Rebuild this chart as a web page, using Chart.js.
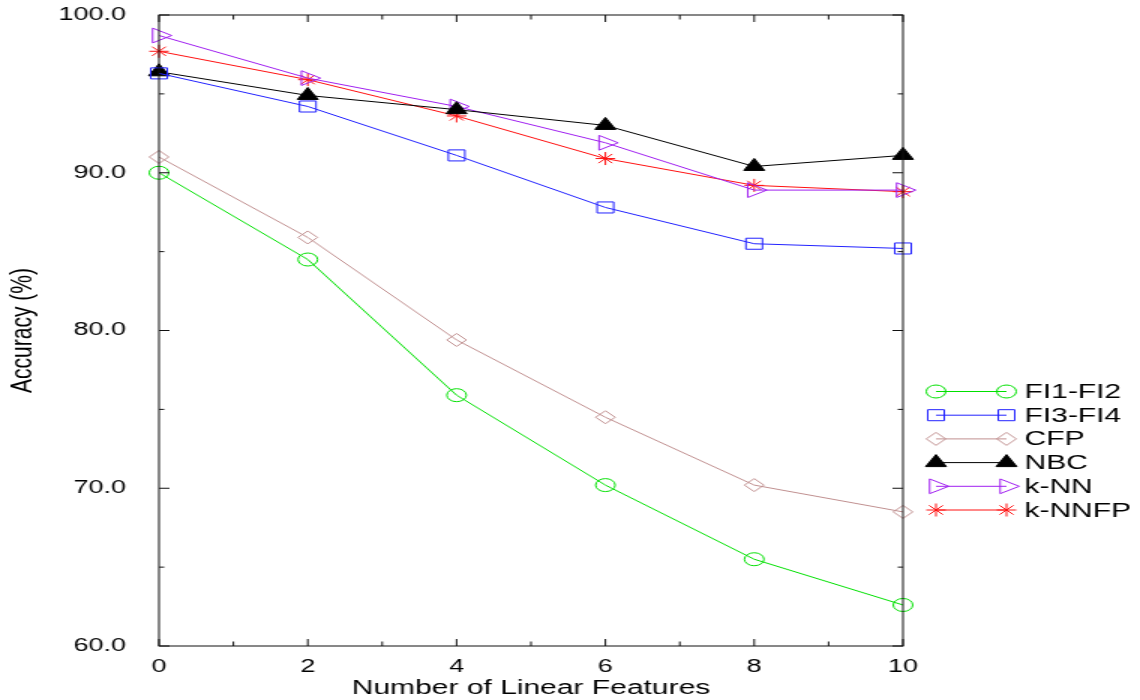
<!DOCTYPE html>
<html>
<head>
<meta charset="utf-8">
<title>Accuracy vs Number of Linear Features</title>
<script src="https://cdn.jsdelivr.net/npm/chart.js@4/dist/chart.umd.min.js"></script>
<style>
    html, body { margin: 0; padding: 0; background: #fff; }
    /* the original is a horizontally stretched plot, so the canvas is drawn narrow and widened */
    #chart { width: 1140px; height: 700px; }
</style>
</head>
<body>
<canvas id="chart" width="760" height="700" style="width:1140px;height:700px"></canvas>
<script>
var featureCounts = [0, 2, 4, 6, 8, 10];

var fi1fi2 = [90.0, 84.5, 75.9, 70.2, 65.5, 62.6];
var fi3fi4 = [96.3, 94.2, 91.1, 87.8, 85.5, 85.2];
var cfp    = [91.0, 85.9, 79.4, 74.5, 70.2, 68.5];
var nbc    = [96.4, 94.9, 94.0, 93.0, 90.4, 91.1];
var knn    = [98.7, 96.0, 94.2, 91.9, 88.9, 88.9];
var knnfp  = [97.7, 95.9, 93.6, 90.9, 89.2, 88.8];

var yTicks = [60, 70, 80, 90, 100];
var xTicks = [0, 2, 4, 6, 8, 10];

function points(values) {
    return values.map(function(v, i) {
        return { x: featureCounts[i], y: v };
    });
}

function series(label, values, color, style, radius, rotation, filled) {
    return {
        label: label,
        data: points(values),
        borderColor: color,
        borderWidth: 1,
        pointStyle: style,
        pointRadius: radius,
        pointHoverRadius: radius,
        pointRotation: rotation || 0,
        pointBorderColor: color,
        pointBorderWidth: 1,
        pointBackgroundColor: filled ? color : 'rgba(0,0,0,0)',
        tension: 0,
        clip: false
    };
}

// inward tick marks on all four sides plus the frame
var frameTicks = {
    id: 'frameTicks',
    afterDraw: function(chart) {
        var ctx = chart.ctx;
        var a = chart.chartArea;
        var xs = chart.scales.x;
        var ys = chart.scales.y;
        var v, px, len;

        ctx.save();
        ctx.strokeStyle = '#111';
        ctx.lineWidth = 1;
        ctx.strokeRect(a.left, a.top, a.right - a.left, a.bottom - a.top);

        ctx.beginPath();
        for (v = 0; v <= 10; v++) {
            px = xs.getPixelForValue(v);
            len = (v % 2 === 0) ? 7 : 4.5;
            ctx.moveTo(px, a.bottom);
            ctx.lineTo(px, a.bottom - len);
            ctx.moveTo(px, a.top);
            ctx.lineTo(px, a.top + len);
        }
        for (v = 60; v <= 100; v += 5) {
            px = ys.getPixelForValue(v);
            len = (v % 10 === 0) ? 7 : 3.5;
            ctx.moveTo(a.left, px);
            ctx.lineTo(a.left + len, px);
            ctx.moveTo(a.right, px);
            ctx.lineTo(a.right - len, px);
        }
        ctx.stroke();
        ctx.restore();
    }
};

// legend: a short line with a marker at each end, label to the right
var sideLegend = {
    id: 'sideLegend',
    afterDraw: function(chart) {
        var ctx = chart.ctx;
        var x1 = 624, x2 = 671, textX = 683;
        var y = 391.5, step = 23.7;

        ctx.save();
        ctx.font = '20px "Liberation Sans", Arial, sans-serif';
        ctx.textBaseline = 'middle';
        ctx.textAlign = 'left';

        chart.data.datasets.forEach(function(ds, i) {
            var yy = y + i * step;
            ctx.strokeStyle = ds.borderColor;
            ctx.lineWidth = 1;
            ctx.beginPath();
            ctx.moveTo(x1, yy);
            ctx.lineTo(x2, yy);
            ctx.stroke();

            var opts = {
                pointStyle: ds.pointStyle,
                radius: ds.pointRadius,
                rotation: ds.pointRotation,
                borderWidth: 1
            };
            ctx.fillStyle = ds.pointBackgroundColor;
            ctx.strokeStyle = ds.pointBorderColor;
            Chart.helpers.drawPoint(ctx, opts, x1, yy);
            Chart.helpers.drawPoint(ctx, opts, x2, yy);

            ctx.fillStyle = '#000';
            ctx.fillText(ds.label, textX, yy + 1);
        });
        ctx.restore();
    }
};

Chart.defaults.font.family = '"Liberation Sans", Arial, Helvetica, sans-serif';
Chart.defaults.color = '#000';

new Chart(document.getElementById('chart'), {
    type: 'line',
    data: {
        datasets: [
            series('FI1-FI2', fi1fi2, '#00e000', 'circle', 6.5),
            series('FI3-FI4', fi3fi4, '#2222ff', 'rect', 7.8),
            series('CFP', cfp, '#c09090', 'rectRot', 6.5),
            series('NBC', nbc, '#000000', 'triangle', 8, 0, true),
            series('k-NN', knn, '#a020f0', 'triangle', 8.5, 90),
            series('k-NNFP', knnfp, '#ff1010', 'star', 6.5)
        ]
    },
    options: {
        responsive: false,
        animation: false,
        devicePixelRatio: 1,
        events: [],
        layout: {
            padding: { left: 0, right: 158, top: 15, bottom: 0 }
        },
        plugins: {
            legend: { display: false },
            tooltip: { enabled: false }
        },
        scales: {
            x: {
                type: 'linear',
                min: 0,
                max: 10,
                grid: { display: false },
                border: { display: false },
                afterBuildTicks: function(scale) {
                    scale.ticks = xTicks.map(function(v) { return { value: v }; });
                },
                afterFit: function(scale) {
                    scale.height = 54;
                    scale.paddingLeft = 0;
                    scale.paddingRight = 0;
                },
                ticks: {
                    padding: 2,
                    maxRotation: 0,
                    font: { size: 18 }
                },
                title: {
                    display: true,
                    text: 'Number of Linear Features',
                    font: { size: 20 },
                    padding: { top: 0, bottom: 0 }
                }
            },
            y: {
                min: 60,
                max: 100,
                grid: { display: false },
                border: { display: false },
                afterBuildTicks: function(scale) {
                    scale.ticks = yTicks.map(function(v) { return { value: v }; });
                },
                afterFit: function(scale) {
                    scale.width = 106;
                    scale.paddingTop = 0;
                    scale.paddingBottom = 0;
                },
                ticks: {
                    padding: 14,
                    font: { size: 18 },
                    callback: function(value) {
                        return Number(value).toFixed(1);
                    }
                },
                title: {
                    display: true,
                    text: 'Accuracy (%)',
                    font: { size: 21 },
                    padding: { top: 3, bottom: 0 }
                }
            }
        }
    },
    plugins: [frameTicks, sideLegend]
});
</script>
</body>
</html>
